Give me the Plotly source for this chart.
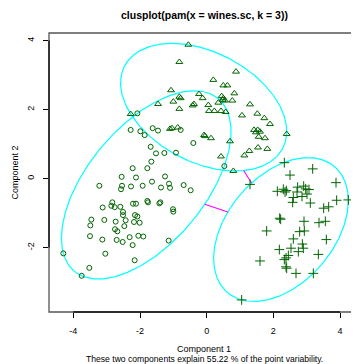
import numpy as np
import plotly.graph_objects as go

# ---- data (principal component scores) ----
# cluster 1 (circles)
c1_x = [-2.08, -2.28, -1.99, -1.86, -1.62, -1.46, -0.78, -0.40, -1.68, -1.52, -1.27, -0.92,
        -1.66, -2.22, -1.78, 0.53, -2.55, -2.12, -1.25, -3.22, -2.54, -2.57, -2.27, -1.92,
        -1.64, -1.37, -1.13, -1.10, -0.69, -0.48, -2.83, -2.86, -2.76, -3.12, -2.59, -2.21,
        -2.12, -1.78, -1.76, -1.42, -1.39, -1.01, -1.00, -2.51, -2.51, -2.15, -2.08, -3.46,
        -3.49, -3.07, -2.73, -2.43, -2.47, -2.18, -2.01, -2.75, -2.68, -3.50, -3.13, -2.70,
        -2.52, -2.31, -2.05, -1.90, -2.22, -1.14, -3.04, -4.30, -2.16, -3.52, -3.75]
c1_y = [1.89, 1.41, 1.37, 1.26, 1.46, 1.39, 1.41, 1.03, 0.92, 0.73, 0.74, 0.75,
        0.49, 0.30, 0.30, 0.36, 0.05, 0.03, 0.06, -0.21, -0.21, -0.31, -0.23, -0.21,
        -0.09, -0.26, -0.15, -0.27, -0.19, -0.34, -0.69, -0.79, -0.83, -0.84, -0.82, -0.73,
        -0.73, -0.65, -0.69, -0.72, -0.69, -0.89, -0.96, -0.97, -1.06, -1.06, -1.10, -1.19,
        -1.36, -1.20, -1.25, -1.21, -1.38, -1.26, -1.28, -1.47, -1.53, -1.67, -1.77, -1.78,
        -1.84, -1.70, -1.66, -1.68, -1.93, -1.80, -2.18, -2.17, -2.37, -2.59, -2.82]

# cluster 2 (triangles)
c2_x = [-0.55, -0.82, 0.88, 0.20, 0.50, 0.62, -1.07, 0.83, -0.23, -0.82, -0.78, -0.12,
        0.45, 0.50, 0.48, 0.55, 0.77, -1.00, -1.46, 0.35, 0.05, -0.42, -0.38, 1.30,
        -0.82, 0.07, 0.23, 0.43, 0.57, 1.06, 1.52, 1.73, 1.90, -2.28, -1.10, -1.04,
        -0.87, 1.42, 1.53, 1.60, 1.48, 1.56, 1.75, 2.40, -0.08, -0.05, 0.13, 0.70,
        1.28, 1.54, 1.82, 1.13, 0.43, 0.80]
c2_y = [3.88, 3.38, 3.10, 2.86, 2.70, 2.70, 2.56, 2.47, 2.45, 2.37, 2.33, 2.33,
        2.39, 2.33, 2.28, 2.26, 2.26, 2.23, 2.16, 2.20, 2.13, 2.12, 2.16, 2.15,
        2.02, 1.96, 1.96, 1.96, 1.93, 1.83, 1.88, 1.75, 1.58, 1.87, 1.44, 1.46,
        1.48, 1.41, 1.41, 1.36, 1.34, 1.21, 1.17, 1.29, 1.26, 1.23, 1.17, 1.08,
        0.80, 0.90, 0.86, 0.67, 0.64, 0.22]

# cluster 3 (plus signs)
c3_x = [2.33, 3.18, 2.50, 3.88, 1.30, 2.12, 2.30, 2.35, 2.39, 2.73, 2.91, 2.97,
        3.07, 2.71, 2.60, 2.86, 3.01, 2.58, 3.11, 3.90, 4.25, 3.51, 3.66, 2.19,
        2.22, 2.92, 3.37, 3.56, 1.80, 2.79, 2.93, 2.60, 3.59, 2.87, 2.90, 2.18,
        2.53, 2.75, 3.35, 2.45, 2.38, 2.33, 1.60, 2.38, 2.40, 2.68, 3.20, 1.05]
c3_y = [0.46, 0.28, 0.10, -0.12, -0.17, -0.37, -0.31, -0.39, -0.35, -0.25, -0.22, -0.30,
        -0.32, -0.39, -0.55, -0.52, -0.45, -0.69, -0.71, -0.63, -0.62, -0.86, -0.82, -1.15,
        -1.18, -1.24, -1.28, -1.24, -1.52, -1.54, -1.52, -1.75, -1.77, -1.90, -2.02, -2.06,
        -2.02, -2.12, -2.20, -2.23, -2.30, -2.35, -2.39, -2.56, -2.60, -2.75, -2.75, -3.52]

x_ticks = [-4, -2, 0, 2, 4]
y_ticks = [-2, 0, 2, 4]
title_text = "clusplot(pam(x = wines.sc, k = 3))"
xlab = "Component 1"
ylab = "Component 2"
sub_text = "These two components explain 55.22 % of the point variability."

GREEN = "#006400"
CYAN = "#00FFFF"
MAGENTA = "#FF00FF"
FONT = "Liberation Sans, Arial, Helvetica, sans-serif"


def mvee(P, tol=1e-7, maxit=50000):
    """Minimum volume enclosing ellipse (Khachiyan), like cluster::ellipsoidhull."""
    N, d = P.shape
    Q = np.vstack([P.T, np.ones(N)])
    u = np.ones(N) / N
    for _ in range(maxit):
        X = Q @ np.diag(u) @ Q.T
        M = np.einsum('ij,ji->i', Q.T @ np.linalg.inv(X), Q)
        j = int(np.argmax(M))
        mx = M[j]
        step = (mx - d - 1.0) / ((d + 1.0) * (mx - 1.0))
        nu = (1 - step) * u
        nu[j] += step
        if np.linalg.norm(nu - u) < tol:
            u = nu
            break
        u = nu
    c = P.T @ u
    A = np.linalg.inv(P.T @ np.diag(u) @ P - np.outer(c, c)) / d
    return c, A


clusters = [(np.array(c1_x), np.array(c1_y)),
            (np.array(c2_x), np.array(c2_y)),
            (np.array(c3_x), np.array(c3_y))]
symbols = ["circle-open", "triangle-up-open", "cross-thin-open"]
sizes = [5, 6, 7]

fig = go.Figure()
ells = []
t = np.linspace(0, 2 * np.pi, 400)
for (xs, ys) in clusters:
    c, A = mvee(np.column_stack([xs, ys]))
    ells.append((c, A))
    w, V = np.linalg.eigh(A)
    pts = c[:, None] + V @ np.diag(1 / np.sqrt(w)) @ np.vstack([np.cos(t), np.sin(t)])
    fig.add_trace(go.Scatter(x=pts[0], y=pts[1], mode="lines",
                             line=dict(color=CYAN, width=1.2), hoverinfo="skip",
                             showlegend=False))

# segments between non-overlapping ellipses along the line joining centres
for i in range(3):
    for j in range(i + 1, 3):
        ci, Ai = ells[i]
        cj, Aj = ells[j]
        dv = cj - ci
        ti = 1 / np.sqrt(dv @ Ai @ dv)
        tj = 1 - 1 / np.sqrt(dv @ Aj @ dv)
        if ti < tj:
            p0 = ci + ti * dv
            p1 = ci + tj * dv
            fig.add_trace(go.Scatter(x=[p0[0], p1[0]], y=[p0[1], p1[1]], mode="lines",
                                     line=dict(color=MAGENTA, width=1.1),
                                     hoverinfo="skip", showlegend=False))

for (xs, ys), sym, sz in zip(clusters, symbols, sizes):
    fig.add_trace(go.Scatter(x=xs, y=ys, mode="markers",
                             marker=dict(symbol=sym, size=sz, color=GREEN,
                                         line=dict(color=GREEN, width=1)),
                             showlegend=False))

# the page body has an 8px margin, so the figure is 8px smaller than the window
fig.update_layout(
    width=351, height=356,
    margin=dict(l=41, r=0, t=25, b=52, autoexpand=False),
    plot_bgcolor="white", paper_bgcolor="white",
    font=dict(family=FONT, size=9, color="black"),
    xaxis=dict(range=[-4.73, 4.57], tickvals=x_ticks, ticktext=[str(v) for v in x_ticks],
               showgrid=False, zeroline=False, showline=False, automargin=False,
               ticks="outside", ticklen=5, tickcolor="black", tickwidth=1,
               ticklabelstandoff=5, tickfont=dict(size=9)),
    yaxis=dict(range=[-3.87, 4.22], tickvals=y_ticks, ticktext=[str(v) for v in y_ticks],
               showgrid=False, zeroline=False, showline=False, automargin=False,
               ticks="outside", ticklen=5, tickcolor="black", tickwidth=1,
               tickangle=-90, ticklabelstandoff=5, tickfont=dict(size=9)),
    shapes=[
        dict(type="rect", xref="paper", yref="paper", x0=0, x1=1.02, y0=0, y1=1,
             line=dict(color="#555555", width=1.3), layer="above"),
        dict(type="line", xref="x", yref="paper", x0=x_ticks[0], x1=x_ticks[-1], y0=0, y1=0,
             line=dict(color="#111111", width=1.4), layer="above"),
        dict(type="line", xref="paper", yref="y", x0=0, x1=0, y0=y_ticks[0], y1=y_ticks[-1],
             line=dict(color="#111111", width=1.4), layer="above"),
    ],
    annotations=[
        dict(text="<b>" + title_text + "</b>", xref="paper", yref="paper", x=0.5, y=1,
             yshift=18, showarrow=False, font=dict(size=10.5), xanchor="center", yanchor="middle"),
        dict(text=xlab, xref="paper", yref="paper", x=0.5, y=0, yshift=-37,
             showarrow=False, font=dict(size=9), xanchor="center", yanchor="middle"),
        dict(text=sub_text, xref="paper", yref="paper", x=0.5, y=0, yshift=-47,
             showarrow=False, font=dict(size=8.6), xanchor="center", yanchor="middle"),
        dict(text=ylab, xref="paper", yref="paper", x=0, y=0.5, xshift=-35, textangle=-90,
             showarrow=False, font=dict(size=9), xanchor="center", yanchor="middle"),
    ],
)

fig.write_html("out.html")
